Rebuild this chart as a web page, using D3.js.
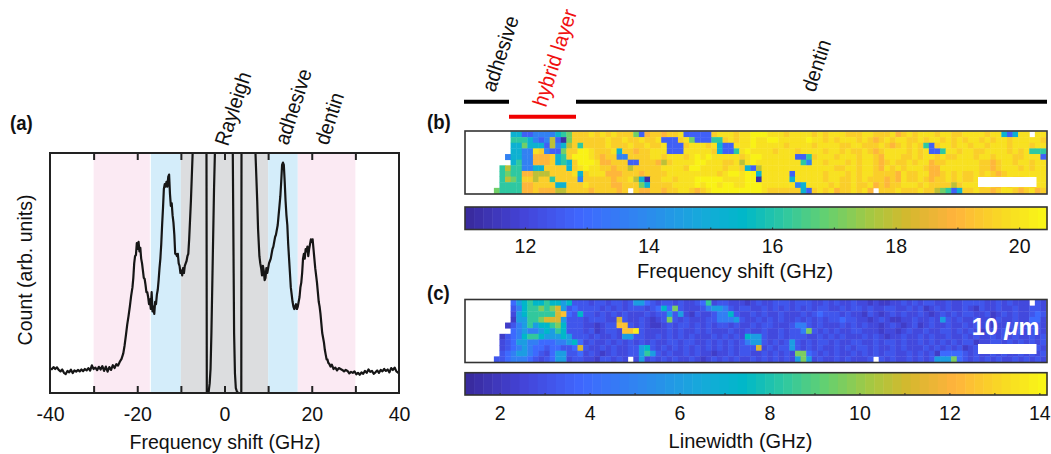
<!DOCTYPE html>
<html>
<head>
<meta charset="utf-8">
<script src="https://cdn.jsdelivr.net/npm/d3@7"></script>
<style>
  html, body { margin: 0; padding: 0; background: #fff; }
  text { font-family: "Liberation Sans", Arial, sans-serif; font-size: 21px; fill: #111; }
  .panel { font-weight: bold; font-size: 20px; }
</style>
</head>
<body>
<div id="chart"></div>
<script>
// spectrum, panel (a): shift in GHz and counts (0-100 = frame height, the Rayleigh peaks run off it)
const specFreq = [
  -40,-39.6,-39.2,-38.8,-38.4,-38,-37.6,-37.2,-36.8,-36.4,-36,-35.6,-35.2,-34.8,-34.4,-34,-33.6,-33.2,-32.8,-32.4,
  -32,-31.6,-31.2,-30.8,-30.4,-30,-29.6,-29.2,-28.8,-28.4,-28,-27.6,-27.2,-26.8,-26.4,-26,-25.6,-25.2,-24.8,-24.4,
  -24,-23.6,-23.2,-22.9,-22.6,-22.3,-22,-21.7,-21.4,-21.1,-20.9,-20.7,-20.5,-20.3,-20.1,-19.9,-19.7,-19.5,-19.3,-19.1,
  -18.9,-18.7,-18.5,-18.3,-18.1,-17.9,-17.7,-17.5,-17.3,-17.1,-16.9,-16.7,-16.5,-16.3,-16.1,-15.9,-15.7,-15.5,-15.3,-15.1,
  -14.9,-14.7,-14.5,-14.3,-14.1,-13.9,-13.7,-13.5,-13.3,-13.1,-12.9,-12.7,-12.5,-12.3,-12.1,-11.9,-11.7,-11.5,-11.3,-11.1,
  -10.9,-10.7,-10.5,-10.3,-10.1,-9.9,-9.7,-9.5,-9.3,-9.1,-8.9,-8.7,-8.5,-8.3,-8.1,-7.9,-7.7,-7.5,-7.3,-7.1,
  -4.15,-4.05,-3.8,-3.6,-3.4,-3.2,-3,-2.8,-2.6,-2.4,-2.2,-2.1,
  1.8,1.9,2,2.1,2.2,2.4,2.6,2.9,3.3,3.85,3.9,
  7.1,7.3,7.5,7.7,8,8.2,8.4,8.6,8.8,9,9.2,9.4,9.6,9.8,10,10.2,10.4,10.6,10.8,11,
  11.2,11.4,11.6,11.8,12,12.2,12.4,12.6,12.8,13,13.2,13.4,13.6,13.8,14,14.2,14.4,14.6,14.8,15,
  15.2,15.4,15.6,15.8,16,16.2,16.4,16.6,16.8,17,17.2,17.4,17.6,17.8,18,18.2,18.4,18.6,18.8,19,
  19.2,19.4,19.6,19.8,20,20.2,20.4,20.6,20.8,21,21.2,21.4,21.6,21.8,22,22.2,22.4,22.6,22.8,23,
  23.2,23.4,23.6,23.8,24,24.3,24.6,25,25.4,25.8,26.2,26.6,27,27.4,27.8,28.2,28.6,29,29.4,29.8,
  30.2,30.6,31,31.4,31.8,32.2,32.6,33,33.4,33.8,34.2,34.6,35,35.4,35.8,36.2,36.6,37,37.4,37.8,38.2,38.6,39,39.4,40
];
const specCount = [
  10.2,9.9,10.8,10,10.7,9.6,9,9.8,8.4,7.9,9.2,8.6,9.7,8.3,9.4,8.9,9.6,9,9.8,9.1,
  10,9.4,10.4,9.3,11.5,10,10.6,9.5,10.9,9.8,11.2,9.2,11,8.9,10.8,9.6,11.6,10.4,12,11.4,
  13,14.2,16.5,19.8,24,28.5,32,36,40.5,44,48,54,57,57.5,62.5,60,63,59,60.5,56,
  54,51,48,47.5,45,42,42,40,37,39,35,42,34,36,33,38,37,41,43,47,
  52,56,62,70,77,85,87,86,88,86,90,91,83,78,79,74,71,66,58,58,
  57,58,54,53,50,51,49,52,50,53,54,55,57,58,64,72,80,90,100,115,
  125,-5,-3,1,4,10,25,45,65,85,100,115,
  115,100,75,50,25,8,2,0.3,0,-3,110,
  100,90,80,68,57,54,52,49,53,51,47,48,52,50,52,54,55,56,58,60,
  61,63,65,66,68,70,74,78,82,88,95,96,95,88,80,74,70,62,56,50,
  44,41,38,36,35,36,37,35,36,38,40,44,46,50,56,58,56,60,59,61,
  57,60,62,64,63,64,60,56,52,49,46,42,38,36,33,29,25,23,21,18,
  16,14,14,12.5,12.2,11,11.8,10,10.6,9.4,10.4,10,9.6,9,9.6,9.2,8.2,8.8,8.4,9,
  7.8,8.4,7.6,8.6,8,9.2,8.4,9.8,8.8,9.2,8,8.6,9.4,8.4,9.6,9,10,9.2,9.8,8.6,10.4,9.6,10.6,9,8.2
];
const specTicks = [-40,-20,0,20,40];
const specMinorTicks = [-30,-20,-10,0,10,20,30];
const bandEdges = [-30,-17,-10,10,16.8,30];

// maps, panels (b) and (c): one character per cell, "." = no data, spaces only to keep count
const freqLevels = {"0":11.2,"1":12.7,"2":13.7,"3":15.2,"4":16.2,"5":17,"6":17.9,"7":19,"8":19.5,"9":19.9,"A":20.3};
const freqRows = [
  "........33 1122223458 8898989888 5178878891 1111899989 9AAA999899 9989899988 8998889789 8999899889 9998993139 9.99",
  "........44 4321261058 8888898898 8988911189 5111448989 9A99AA9999 9A99898999 8987898998 8989989898 9989899899 9998",
  "........33 5333162368 4888898889 8898891118 9998931199 9A99999899 9989999889 9888987898 9841899899 8998999899 9899",
  "........33 2298211588 AA98889388 7889991119 9999831149 A999989998 9999899898 8987899998 9891149989 9889999898 9444",
  ".......233 227778348A AA98788228 8889989998 9A9A999998 9AA9999991 1489998999 8998799988 9899898899 9899899988 9991",
  "........34 2277783438 AAA9778881 1888768999 9AA9998896 9A99999999 4299899989 8998789889 8997889999 9988789989 9899",
  "......4644 2233888838 9A99887886 8888899998 AA99998998 3169999999 9999998899 8998798989 9987799999 9988789998 9899",
  "......4544 7766688889 3899977788 8788889999 9999989AA9 AA39999919 9999899989 8998888798 8997789898 8989878999 9999",
  "......4654 8868848888 2888887889 6308899899 9AAAAA9999 AA09999939 9999899889 8988878798 8987889898 8998899988 9A99",
  "......4444 7788883388 8988887788 8538888999 9A9AA9AA99 AAA9999992 3999989889 8897878899 9898888689 9989879898 9899",
  ".....54444 7787776688 887888878. 8778878899 8789AAAAAA AAA9888888 3189897889 897.888988 8988654138 8988789987 8978"
];
const widthLevels = {"0":2.2,"1":2.7,"2":3.2,"3":3.9,"4":4.8,"5":6,"6":7.4,"7":8.4,"8":9.6,"9":11.2,"A":12.5,"B":13.8};
const widthRows = [
  "........35 6766766562 2212212212 5532122121 1237122111 0121122212 2211212112 1101001121 2122112112 2221121211 1.21",
  "........24 6778789523 2222121212 2212363821 1124554212 2112121212 1212211212 2121122112 1201212112 1021121121 1221",
  "........15 6777779A32 6221212121 1121225251 0211244621 1212112111 2123222121 1021012121 1210121212 2112012121 1232",
  "........05 5778999522 2122211921 1210128212 1112244452 1121212112 1212122322 1101210011 2112152121 1211021121 1331",
  ".......024 5756678622 2110122AA2 1210012122 1212122121 1212211124 4212111212 1211012101 2012112112 1212011212 1221",
  "........34 5445657622 21201221AA B211112121 1212111211 2112112122 4821212112 2111011012 1121122121 2101112122 1221",
  "......0234 6776555652 2212112155 2211212121 2111212121 6552112122 2112121211 1212101121 1212112112 1211212121 1212",
  "......1235 5443334456 3121121212 1212112212 2112121212 4552121252 1212212112 2112122121 1212121212 2011221212 1212",
  "......1234 5433233223 9211212112 2562121212 1212121212 2291212252 1212112121 2212112121 1121212120 1212121121 2121",
  "......2345 5432135522 3121012112 2575212112 1211011212 2112121218 8321212112 1212122112 1212033332 1211212112 1212",
  ".....22344 4321235512 211022121. 1512121211 2101212121 1212121215 8512112121 112.212112 1212555832 1212121121 2121"
];
const freqTicks = [12,14,16,18,20];
const freqMinor = [12,13,14,15,16,17,18,19,20];
const widthTicks = [2,4,6,8,10,12,14];
const widthMinor = [2,3,4,5,6,7,8,9,10,11,12,13,14];

const width = 1051;
const height = 454;

const svg = d3.select("#chart")
  .append("svg")
  .attr("width", width)
  .attr("height", height)
  .style("display", "block");

const frameColor = "#333";

// slight softening, the reference map is a resampled bitmap
svg.append("filter").attr("id", "soft")
  .append("feGaussianBlur").attr("stdDeviation", 0.4);

// ---------- panel (a) ----------
const specX = d3.scaleLinear().domain([-40, 40]).range([50, 399]);
const specY = d3.scaleLinear().domain([0, 100]).range([393, 153]);
const bandColor = ["#fbeaf3", "#d4edfa", "#dcdddf", "#d4edfa", "#fbeaf3"];

svg.selectAll("rect.band")
  .data(d3.pairs(bandEdges))
  .enter()
  .append("rect")
  .attr("class", "band")
  .attr("x", d => specX(d[0]))
  .attr("width", d => specX(d[1]) - specX(d[0]))
  .attr("y", specY(100))
  .attr("height", specY(0) - specY(100))
  .attr("fill", (d, i) => bandColor[i]);

// thin white gap between pink and blue on the left side
svg.append("line")
  .attr("x1", specX(-17)).attr("x2", specX(-17))
  .attr("y1", specY(100)).attr("y2", specY(0))
  .attr("stroke", "#fff").attr("stroke-width", 1);

svg.append("clipPath").attr("id", "specClip")
  .append("rect")
  .attr("x", specX(-40)).attr("y", specY(100))
  .attr("width", specX(40) - specX(-40))
  .attr("height", specY(0) - specY(100));

const specLine = d3.line()
  .x(d => specX(d[0]))
  .y(d => specY(d[1]));

svg.append("path")
  .datum(d3.zip(specFreq, specCount))
  .attr("clip-path", "url(#specClip)")
  .attr("d", specLine)
  .attr("fill", "none")
  .attr("stroke", "#161616")
  .attr("stroke-width", 2.2)
  .attr("stroke-linejoin", "round");

svg.append("rect")
  .attr("x", specX(-40)).attr("y", specY(100))
  .attr("width", specX(40) - specX(-40))
  .attr("height", specY(0) - specY(100))
  .attr("fill", "none")
  .attr("stroke", "#222")
  .attr("stroke-width", 2);

function cleanAxis(g, tickColor, tickW) {
  g.select(".domain").remove();
  g.selectAll(".tick line").attr("stroke", tickColor).attr("stroke-width", tickW);
  g.selectAll(".tick text").attr("fill", "#111").style("font-size", "21px")
    .style("font-family", '"Liberation Sans", Arial, sans-serif');
}

svg.append("g")
  .attr("transform", `translate(0,${specY(0)})`)
  .call(d3.axisBottom(specX).tickValues(specTicks).tickFormat(d => String(d)).tickSize(0).tickPadding(13.5))
  .call(g => cleanAxis(g, "#222", 2));
svg.append("g")
  .attr("transform", `translate(0,${specY(0)})`)
  .call(d3.axisBottom(specX).tickValues(specMinorTicks).tickFormat("").tickSize(-7))
  .call(g => cleanAxis(g, "#222", 2));
svg.append("g")
  .attr("transform", `translate(0,${specY(100)})`)
  .call(d3.axisTop(specX).tickValues(specMinorTicks).tickFormat("").tickSize(-7))
  .call(g => cleanAxis(g, "#222", 2));

svg.append("text").attr("x", 225).attr("y", 449).attr("text-anchor", "middle").text("Frequency shift (GHz)");
svg.append("text")
  .attr("transform", "translate(32,270) rotate(-90)")
  .attr("text-anchor", "middle")
  .text("Count (arb. units)");

function tilted(label, x, y, color) {
  svg.append("text")
    .attr("transform", `translate(${x},${y}) rotate(-72)`)
    .style("fill", color || "#111")
    .text(label);
}
tilted("Rayleigh", 228, 147);
tilted("adhesive", 288, 146);
tilted("dentin", 328, 146);

svg.append("text").attr("class", "panel").attr("x", 10).attr("y", 130).text("(a)");
svg.append("text").attr("class", "panel").attr("x", 427).attr("y", 129).text("(b)");
svg.append("text").attr("class", "panel").attr("x", 427).attr("y", 300).text("(c)");

// ---------- region bars above the map ----------
tilted("adhesive", 495, 93);
tilted("hybrid layer", 546, 108, "#f01010");
tilted("dentin", 815, 93);

function regionBar(x0, x1, y, color) {
  svg.append("line")
    .attr("x1", x0).attr("x2", x1).attr("y1", y).attr("y2", y)
    .attr("stroke", color).attr("stroke-width", 4);
}
regionBar(464, 509, 101.7, "#000");
regionBar(509, 576, 116.7, "#f00000");
regionBar(576, 1047, 101.7, "#000");

// ---------- maps ----------
const colormap = d3.scaleLinear()
  .domain([0, 0.1, 0.2, 0.3, 0.4, 0.48, 0.55, 0.62, 0.7, 0.76, 0.84, 0.92, 1])
  .range(["#38299a", "#4444d8", "#3f68ff", "#2f86f0", "#18a8dc", "#00b8c8", "#30c8a0",
          "#64d070", "#a8c840", "#d4b82e", "#ffb33c", "#f8d824", "#f9f816"]);

const mapCols = d3.range(104);
const mapRows = d3.range(11);
const mapX = d3.scaleBand().domain(mapCols).range([466, 1046]);

function drawMap(rows, levels, top, bottom, valueDomain) {
  const mapY = d3.scaleBand().domain(mapRows).range([top + 0.5, bottom - 0.5]);
  const t = d3.scaleLinear().domain(valueDomain).range([0, 1]);
  const cells = [];
  rows.forEach((row, r) => {
    row.replace(/ /g, "").split("").forEach((ch, c) => {
      if (levels[ch] !== undefined) cells.push({r: r, c: c, v: levels[ch]});
    });
  });
  const g = svg.append("g").attr("filter", "url(#soft)");
  g.selectAll("rect")
    .data(cells)
    .enter()
    .append("rect")
    .attr("x", d => mapX(d.c))
    .attr("y", d => mapY(d.r))
    .attr("width", mapX.bandwidth() + 0.4)
    .attr("height", mapY.bandwidth() + 0.4)
    .attr("fill", d => colormap(t(d.v)));
  svg.append("rect")
    .attr("x", 465).attr("y", top)
    .attr("width", 582).attr("height", bottom - top)
    .attr("fill", "none")
    .attr("stroke", frameColor)
    .attr("stroke-width", 1.6);
}

const freqDomain = [11.03, 20.45];
const widthDomain = [1.23, 14.17];
drawMap(freqRows, freqLevels, 131, 194, freqDomain);
drawMap(widthRows, widthLevels, 299.5, 362.5, widthDomain);

// scale bars and the 10 um label
function scaleBar(y0, y1) {
  svg.append("rect")
    .attr("x", 978).attr("y", y0).attr("width", 58.5).attr("height", y1 - y0)
    .attr("fill", "#fff");
}
scaleBar(177, 187);
scaleBar(344, 354);
const umLabel = svg.append("text")
  .attr("class", "keep")
  .attr("x", 1005.5).attr("y", 335)
  .attr("text-anchor", "middle")
  .style("fill", "#fff")
  .style("font-weight", "bold")
  .style("font-size", "23.5px");
umLabel.append("tspan").text("10 ");
umLabel.append("tspan").style("font-style", "italic").text("\u03bc");
umLabel.append("tspan").text("m");

// ---------- colour bars ----------
function drawBar(top, bottom, domain, ticks, minor, label, labelX, labelY, pad) {
  const x = d3.scaleLinear().domain(domain).range([465, 1047]);
  const t = d3.scaleLinear().domain(domain).range([0, 1]);
  const steps = d3.range(64).map(i => domain[0] + (domain[1] - domain[0]) * i / 64);
  const stepW = (domain[1] - domain[0]) / 64;
  svg.append("g").selectAll("rect")
    .data(steps)
    .enter()
    .append("rect")
    .attr("x", d => x(d))
    .attr("y", top)
    .attr("width", x(domain[0] + stepW) - x(domain[0]) + 0.5)
    .attr("height", bottom - top)
    .attr("fill", d => colormap(t(d + stepW / 2)));
  svg.append("rect")
    .attr("x", 465).attr("y", top).attr("width", 582).attr("height", bottom - top)
    .attr("fill", "none").attr("stroke", frameColor).attr("stroke-width", 1.6);
  svg.append("g")
    .attr("transform", `translate(0,${bottom})`)
    .call(d3.axisBottom(x).tickValues(minor).tickFormat("").tickSize(-2))
    .call(g => cleanAxis(g, frameColor, 1));
  svg.append("g")
    .attr("transform", `translate(0,${bottom})`)
    .call(d3.axisBottom(x).tickValues(ticks).tickFormat(d => String(d)).tickSize(0).tickPadding(pad))
    .call(g => cleanAxis(g, frameColor, 1));
  svg.append("text").attr("class", "wide").attr("x", labelX).attr("y", labelY).attr("text-anchor", "middle").text(label);
}
drawBar(207, 229.5, freqDomain, freqTicks, freqMinor, "Frequency shift (GHz)", 735, 277.5, 9);
drawBar(372.7, 395, widthDomain, widthTicks, widthMinor, "Linewidth (GHz)", 740.5, 448, 10);

// the reference type is narrow and tall: squeeze every text sideways
svg.selectAll("text").each(function() {
  const el = d3.select(this);
  if (el.classed("keep") || !this.textContent) return;
  const k = el.classed("wide") ? 0.955 : 0.93;
  el.attr("textLength", this.getComputedTextLength() * k)
    .attr("lengthAdjust", "spacingAndGlyphs");
});
</script>
</body>
</html>
